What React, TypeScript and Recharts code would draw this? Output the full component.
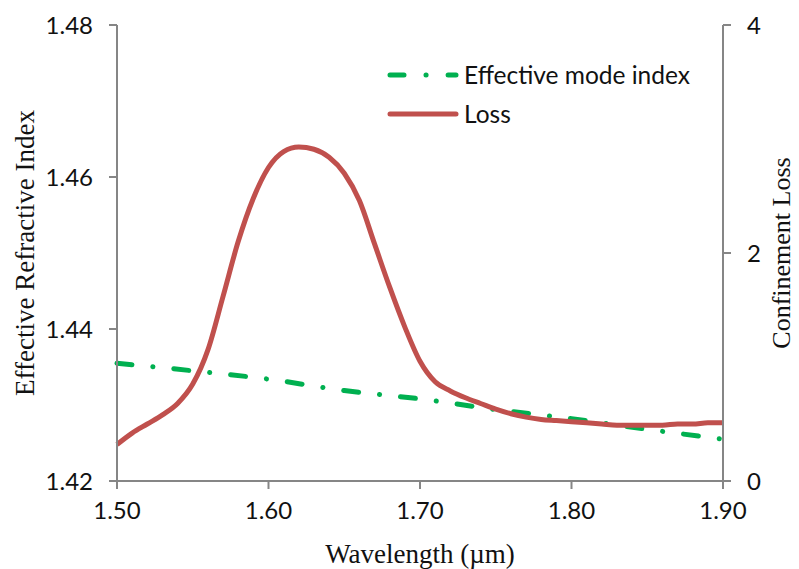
import { LineChart, Line, XAxis, YAxis } from 'recharts';

// wavelength in µm, loss
const wavelength = [
  1.50, 1.51, 1.52, 1.53, 1.54, 1.55, 1.56, 1.57, 1.58, 1.59,
  1.60, 1.61, 1.62, 1.63, 1.64, 1.65, 1.66, 1.67, 1.68, 1.69,
  1.70, 1.71, 1.72, 1.73, 1.74, 1.75, 1.76, 1.77, 1.78, 1.79,
  1.80, 1.81, 1.82, 1.83, 1.84, 1.85, 1.86, 1.87, 1.88, 1.89, 1.90,
];
const loss = [
  0.32, 0.42, 0.50, 0.58, 0.68, 0.85, 1.15, 1.62, 2.10, 2.48,
  2.75, 2.89, 2.93, 2.91, 2.84, 2.70, 2.46, 2.08, 1.70, 1.35,
  1.05, 0.87, 0.79, 0.73, 0.68, 0.63, 0.59, 0.56, 0.54, 0.53,
  0.52, 0.51, 0.50, 0.49, 0.49, 0.49, 0.49, 0.50, 0.50, 0.51, 0.51,
];

// effective mode index, left axis
const indexWavelength = [1.50, 1.55, 1.60, 1.65, 1.70, 1.75, 1.80, 1.85, 1.90];
const modeIndex = [1.4355, 1.4345, 1.4334, 1.4319, 1.4308, 1.4294, 1.4282, 1.4268, 1.4255];

const xTicks = [1.5, 1.6, 1.7, 1.8, 1.9];
const leftTicks = [1.42, 1.44, 1.46, 1.48];
const rightTicks = [0, 2, 4];

const lossData = wavelength.map((x, i) => ({ x, loss: loss[i] }));
const indexData = indexWavelength.map((x, i) => ({ x, index: modeIndex[i] }));

const GREEN = '#00B050';
const RED = '#C0504D';
const AXIS = '#868686';
const DASH = '15 21 0.1 21';
const SANS = 'Lato, "Open Sans", sans-serif';
const SERIF = '"Liberation Serif", "Times New Roman", serif';

const tickStyle = { fontFamily: SANS, fontSize: 24, fill: '#111' };
const titleStyle = { fontFamily: SERIF, fontSize: 27, fill: '#111' };

// drawn over the plot, so it takes no room from the axes
function LegendBox() {
  const rows = [
    { label: 'Effective mode index', color: GREEN, dash: DASH },
    { label: 'Loss', color: RED, dash: undefined },
  ];
  return (
    <div style={{ position: 'absolute', left: 384, top: 55, fontFamily: SANS, fontSize: 24.5, color: '#111' }}>
      {rows.map((r) => (
        <div key={r.label} style={{ display: 'flex', alignItems: 'center', height: 39 }}>
          <svg width={76} height={12}>
            <line
              x1={6} y1={6} x2={72} y2={6}
              stroke={r.color} strokeWidth={5} strokeLinecap="round"
              strokeDasharray={r.dash ? '14 22 0.1 22' : undefined}
            />
          </svg>
          <span style={{ marginLeft: 4 }}>{r.label}</span>
        </div>
      ))}
    </div>
  );
}

export default function App() {
  return (
    <div style={{ position: 'absolute', left: 0, top: 0, width: 799, height: 569, background: '#fff' }}>
      <LineChart width={799} height={569} margin={{ top: 25, right: 0, bottom: 0, left: 0 }}>
        <XAxis
          dataKey="x"
          type="number"
          domain={[1.5, 1.9]}
          ticks={xTicks}
          tickFormatter={(v: number) => v.toFixed(2)}
          height={88}
          tickSize={8}
          tickMargin={13}
          tick={tickStyle}
          axisLine={{ stroke: AXIS, strokeWidth: 2 }}
          tickLine={{ stroke: AXIS, strokeWidth: 2 }}
          allowDuplicatedCategory={false}
          label={{ value: 'Wavelength (µm)', position: 'insideBottom', offset: 6, style: titleStyle }}
        />
        <YAxis
          yAxisId="left"
          orientation="left"
          domain={[1.42, 1.48]}
          ticks={leftTicks}
          tickFormatter={(v: number) => v.toFixed(2)}
          width={117}
          tickSize={8}
          tickMargin={16}
          tick={tickStyle}
          axisLine={{ stroke: AXIS, strokeWidth: 2 }}
          tickLine={{ stroke: AXIS, strokeWidth: 2 }}
          label={{ value: 'Effective Refractive Index', angle: -90, position: 'insideLeft', offset: 24, style: { ...titleStyle, textAnchor: 'middle' } }}
        />
        <YAxis
          yAxisId="right"
          orientation="right"
          domain={[0, 4]}
          ticks={rightTicks}
          width={76}
          tickSize={8}
          tickMargin={16}
          tick={tickStyle}
          axisLine={{ stroke: AXIS, strokeWidth: 2 }}
          tickLine={{ stroke: AXIS, strokeWidth: 2 }}
          label={{ value: 'Confinement Loss', angle: -90, position: 'insideRight', offset: 18, style: { ...titleStyle, fontSize: 26, textAnchor: 'middle' } }}
        />
        <Line
          yAxisId="left"
          data={indexData}
          dataKey="index"
          name="Effective mode index"
          type="monotone"
          stroke={GREEN}
          strokeWidth={5}
          strokeLinecap="round"
          strokeDasharray={DASH}
          dot={false}
          isAnimationActive={false}
        />
        <Line
          yAxisId="right"
          data={lossData}
          dataKey="loss"
          name="Loss"
          type="monotone"
          stroke={RED}
          strokeWidth={5}
          dot={false}
          isAnimationActive={false}
        />
      </LineChart>
      <LegendBox />
    </div>
  );
}
